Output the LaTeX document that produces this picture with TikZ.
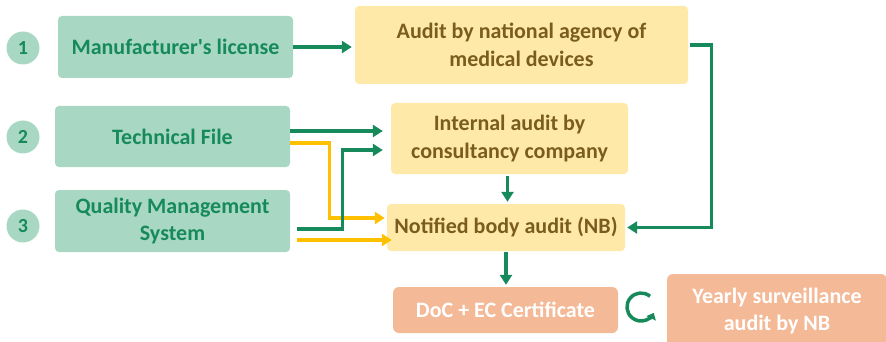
\documentclass[tikz,border=0pt]{standalone}
\usepackage{fontspec}
\setmainfont{Carlito}[Ligatures=TeXOff]
\usetikzlibrary{arrows.meta}
\definecolor{stepteal}{RGB}{168,216,196}
\definecolor{stepgreen}{RGB}{22,138,90}
\definecolor{auditfill}{RGB}{255,233,168}
\definecolor{audittext}{RGB}{122,92,32}
\definecolor{arrowyellow}{RGB}{255,192,0}
\definecolor{certfill}{RGB}{244,185,150}

\begin{document}
\begin{tikzpicture}[x=1pt,y=-1pt,
    every node/.style={font=\fontsize{22}{27.5}\selectfont\bfseries, align=center, inner sep=0pt},
    inbox/.style={fill=stepteal, text=stepgreen, rounded corners=4pt},
    auditbox/.style={fill=auditfill, text=audittext, rounded corners=4pt},
    certbox/.style={fill=certfill, text=white, rounded corners=6pt},
    numdot/.style={circle, fill=stepteal, text=stepgreen, minimum size=33pt, font=\fontsize{20}{24}\selectfont\bfseries},
    garrow/.style={stepgreen, line width=3.3pt, -{Triangle[length=10pt,width=12pt]}},
    yarrow/.style={arrowyellow, line width=3.3pt, -{Triangle[length=10pt,width=12pt]}}]
        \useasboundingbox (0,0) rectangle (886,342);
        \clip (0,0) rectangle (886,342);
        % numbers
        \foreach \n/\y in {1/48,2/137,3/226}{
            \node[numdot] (num\n) at (23,\y) {\n};
        }
        % inputs
        \node[inbox, minimum width=235pt, minimum height=62pt] (license) at (175.5,47) {Manufacturer's license};
        \node[inbox, minimum width=235pt, minimum height=61pt] (techfile) at (172.5,136.5) {Technical File};
        \node[inbox, minimum width=235pt, minimum height=62pt] (qms) at (172.5,221) {Quality Management\\System};
        % audits
        \node[auditbox, minimum width=333pt, minimum height=78pt] (national) at (521.5,45) {Audit by national agency of\\medical devices};
        \node[auditbox, minimum width=237pt, minimum height=71pt] (internal) at (509.5,138.5) {Internal audit by\\consultancy company};
        \node[auditbox, minimum width=238pt, minimum height=47pt] (notified) at (506,227.5) {Notified body audit (NB)};
        % results
        \node[certbox, minimum width=225pt, minimum height=46pt] (doc) at (505.5,310) {DoC + EC Certificate};
        \node[certbox, minimum width=220pt, minimum height=74pt] (yearly) at (777,311) {Yearly surveillance\\audit by NB};
        % connectors
        \draw[garrow, shorten >=3pt] (license.east) -- (license.east -| national.west);
        \draw[garrow, shorten <=2pt, shorten >=2pt] (national.east) -- ++(23,0) |- (notified.east);
        \draw[garrow, shorten >=8pt] ([yshift=5.5pt]techfile.east) -- ([yshift=5.5pt]techfile.east -| internal.west);
        \draw[yarrow, shorten >=2pt] ([yshift=-6.5pt]techfile.east) -- ++(39,0) |- ([yshift=9.5pt]notified.west);
        \draw[garrow, shorten >=8pt] ([xshift=7pt,yshift=-8pt]qms.east) -- ++(45,0) |- ([yshift=-11.5pt]internal.west);
        \draw[yarrow, shorten >=2pt] ([xshift=7pt,yshift=-19pt]qms.east) -- ([xshift=7pt,yshift=-19pt]qms.east -| notified.west);
        \draw[garrow, shorten <=2pt, shorten >=2pt] ([xshift=-2pt]internal.south) -- ([xshift=-2pt]internal.south |- notified.north);
        \draw[garrow, shorten <=1pt, shorten >=2pt] (notified.south) -- (notified.south |- doc.north);
        % cycle mark
        \coordinate (cycle) at (641,307);
        \draw[stepgreen, line width=3.5pt, -{Triangle[length=6pt,width=10pt]}] ([shift={(-50:14)}]cycle) arc[start angle=-50, end angle=-335, radius=14];
\end{tikzpicture}
\end{document}
